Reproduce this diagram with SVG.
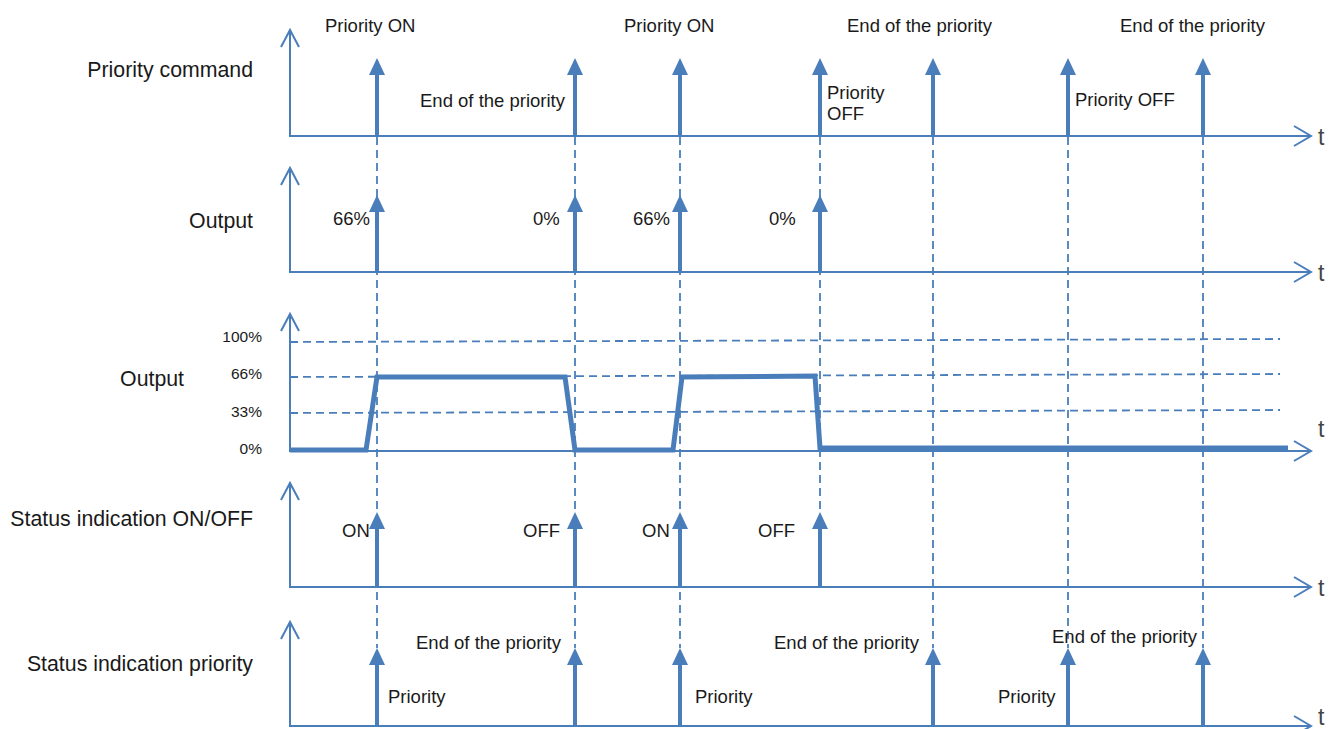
<svg xmlns="http://www.w3.org/2000/svg" width="1331" height="729" viewBox="0 0 1331 729">
<style>
.ax{fill:none;stroke:#4a7ebb;stroke-width:2;stroke-linecap:butt;stroke-linejoin:miter}
.sh{fill:none;stroke:#4a7ebb;stroke-width:4}
.hd{fill:#4a7ebb;stroke:none}
.dash{fill:none;stroke:#4a7ebb;stroke-width:1.8;stroke-dasharray:8 5}
.sig{fill:none;stroke:#4a7ebb;stroke-width:5;stroke-linejoin:miter}
text{font-family:"Liberation Sans",Arial,Helvetica,sans-serif;fill:#1a1a1a}
.ti{font-size:21.3px;text-anchor:end}
.lb{font-size:18.5px}
.pc{font-size:15.5px;text-anchor:end}
.t{font-size:23px;fill:#444}
</style>
<rect width="1331" height="729" fill="#fff"/>

<g id="connectors">
<path class="dash" d="M377 137V648"/>
<path class="dash" d="M575 137V648"/>
<path class="dash" d="M680 137V648"/>
<path class="dash" d="M820 137V512"/>
<path class="dash" d="M933 137V648"/>
<path class="dash" d="M1068 137V648"/>
<path class="dash" d="M1203 137V648"/>
</g>

<g id="panel-priority-command">
<path class="ax" d="M290 30V136H1311"/>
<path class="ax" d="M281 47L290 30L299 47"/>
<path class="ax" d="M1294 126L1311 136L1294 146"/>
<text class="t" x="1318" y="145">t</text>
<text class="ti" x="253" y="77">Priority command</text>
<path class="sh" d="M377 136V72M575 136V72M680 136V72M820 136V72M933 136V72M1068 136V72M1203 136V72"/>
<path class="hd" d="M369 75L377 58L385 75ZM567 75L575 58L583 75ZM672 75L680 58L688 75ZM812 75L820 58L828 75ZM925 75L933 58L941 75ZM1060 75L1068 58L1076 75ZM1195 75L1203 58L1211 75Z"/>
<text class="lb" x="325" y="32">Priority ON</text>
<text class="lb" x="420" y="107">End of the priority</text>
<text class="lb" x="624" y="32">Priority ON</text>
<text class="lb" x="827" y="99">Priority</text>
<text class="lb" x="827" y="120">OFF</text>
<text class="lb" x="847" y="32">End of the priority</text>
<text class="lb" x="1075" y="106">Priority OFF</text>
<text class="lb" x="1120" y="32">End of the priority</text>
</g>

<g id="panel-output-command">
<path class="ax" d="M290 168V272H1311"/>
<path class="ax" d="M281 185L290 168L299 185"/>
<path class="ax" d="M1294 262L1311 272L1294 282"/>
<text class="t" x="1318" y="281">t</text>
<text class="ti" x="253" y="228">Output</text>
<path class="sh" d="M377 272V209M575 272V209M680 272V209M820 272V209"/>
<path class="hd" d="M369 212L377 195L385 212ZM567 212L575 195L583 212ZM672 212L680 195L688 212ZM812 212L820 195L828 212Z"/>
<text class="lb" x="333" y="225">66%</text>
<text class="lb" x="533" y="225">0%</text>
<text class="lb" x="633" y="225">66%</text>
<text class="lb" x="769" y="225">0%</text>
</g>

<g id="panel-output-level">
<path class="dash" d="M290 342L1280 339"/>
<path class="dash" d="M290 377L1280 374"/>
<path class="dash" d="M290 413L1280 410"/>
<path class="ax" d="M290 314V451H1311"/>
<path class="ax" d="M281 331L290 314L299 331"/>
<path class="ax" d="M1294 441L1311 451L1294 461"/>
<path class="sig" d="M290 450L366 450L377 377L565 377L575 450L673 450L682 377L815 376L820 448L1288 448"/>
<text class="t" x="1318" y="437">t</text>
<text class="ti" x="184" y="386">Output</text>
<text class="pc" x="262" y="342">100%</text>
<text class="pc" x="262" y="379">66%</text>
<text class="pc" x="262" y="417">33%</text>
<text class="pc" x="262" y="454">0%</text>
</g>

<g id="panel-status-onoff">
<path class="ax" d="M290 483V587H1311"/>
<path class="ax" d="M281 500L290 483L299 500"/>
<path class="ax" d="M1294 577L1311 587L1294 597"/>
<text class="t" x="1318" y="596">t</text>
<text class="ti" x="253" y="526">Status indication ON/OFF</text>
<path class="sh" d="M377 587V526M575 587V526M680 587V526M820 587V526"/>
<path class="hd" d="M369 529L377 512L385 529ZM567 529L575 512L583 529ZM672 529L680 512L688 529ZM812 529L820 512L828 529Z"/>
<text class="lb" x="342" y="537">ON</text>
<text class="lb" x="523" y="537">OFF</text>
<text class="lb" x="642" y="537">ON</text>
<text class="lb" x="758" y="537">OFF</text>
</g>

<g id="panel-status-priority">
<path class="ax" d="M290 622V726H1311"/>
<path class="ax" d="M281 639L290 622L299 639"/>
<path class="ax" d="M1294 716L1311 726L1294 736"/>
<text class="t" x="1318" y="725">t</text>
<text class="ti" x="253" y="671">Status indication priority</text>
<path class="sh" d="M377 726V662M575 726V662M680 726V662M933 726V662M1068 726V662M1203 726V662"/>
<path class="hd" d="M369 665L377 648L385 665ZM567 665L575 648L583 665ZM672 665L680 648L688 665ZM925 665L933 648L941 665ZM1060 665L1068 648L1076 665ZM1195 665L1203 648L1211 665Z"/>
<text class="lb" x="416" y="649">End of the priority</text>
<text class="lb" x="388" y="703">Priority</text>
<text class="lb" x="695" y="703">Priority</text>
<text class="lb" x="774" y="649">End of the priority</text>
<text class="lb" x="998" y="703">Priority</text>
<text class="lb" x="1052" y="643">End of the priority</text>
</g>
</svg>
